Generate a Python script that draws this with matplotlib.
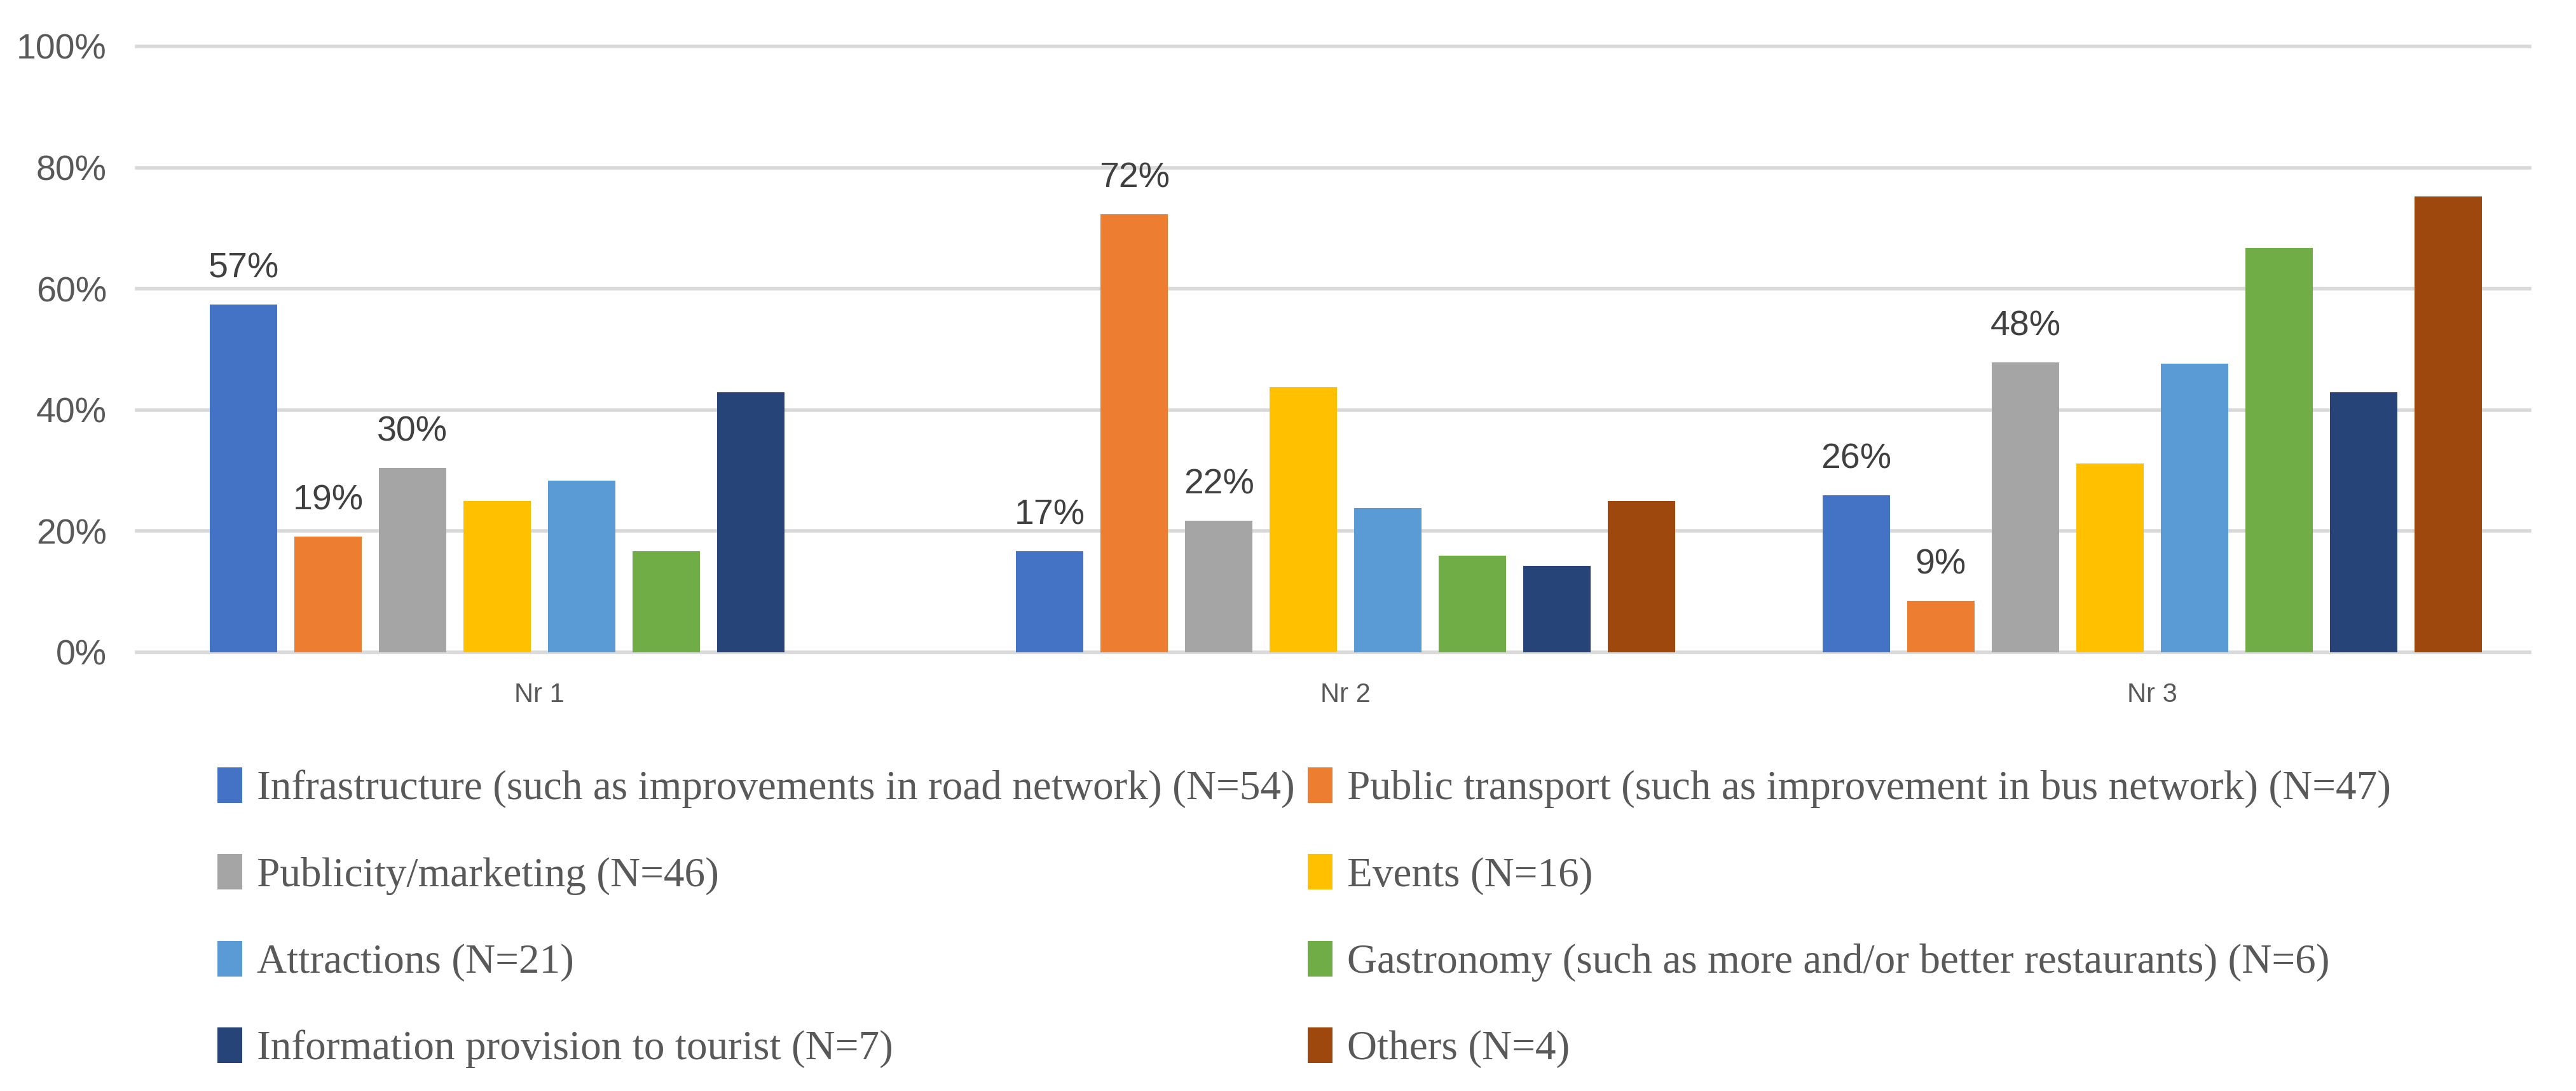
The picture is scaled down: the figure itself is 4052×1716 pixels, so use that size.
import numpy as np
import matplotlib
matplotlib.use("Agg")
import matplotlib.pyplot as plt

# ---*** DATA ***---
groups = ["Nr 1", "Nr 2", "Nr 3"]
series = ["Infrastructure (such as improvements in road network) (N=54)",
          "Public transport (such as improvement in bus network) (N=47)",
          "Publicity/marketing (N=46)",
          "Events (N=16)",
          "Attractions (N=21)",
          "Gastronomy (such as more and/or better restaurants) (N=6)",
          "Information provision to tourist (N=7)",
          "Others (N=4)"]
colors = ["#4472C4", "#ED7D31", "#A5A5A5", "#FFC000",
          "#5B9BD5", "#70AD47", "#264478", "#9E480E"]

infra = [57.4, 16.7, 25.9]
transport = [19.1, 72.3, 8.51]
publicity = [30.4, 21.7, 47.8]
events = [25.0, 43.8, 31.2]
attractions = [28.3, 23.8, 47.6]
gastro = [16.7, 16.0, 66.7]
info = [42.9, 14.3, 42.9]
others = [0.0, 25.0, 75.2]
values = [infra, transport, publicity, events, attractions, gastro, info, others]
labelled = [0, 1, 2]   # series that carry data labels

yticks = [0, 20, 40, 60, 80, 100]

# ---*** PLOT ***---
fig = plt.figure(figsize=(40.52, 17.16), dpi=100)
ax = fig.add_axes([0.0531, 0.4021, 0.982 - 0.0531, 0.9575 - 0.4021])

narrow = ["Liberation Sans", "DejaVu Sans"]
step = 0.1048
width = 0.0836
x = np.arange(len(groups))

handles = []
for i in range(len(series)):
    pos = x + (i - 3.5) * step
    bars = ax.bar(pos, values[i], width, color=colors[i], label=series[i], zorder=3)
    handles.append(bars)
    if i in labelled:
        for b, v in zip(bars, values[i]):
            ax.annotate("%d%%" % int(round(v)), (b.get_x() + b.get_width() / 2, v),
                        xytext=(0, 22), textcoords="offset points", ha="center", va="bottom",
                        fontsize=40, color="#404040", family=narrow)

ax.set_xlim(-0.499, 2.468)
ax.set_ylim(0, 100)
ax.set_yticks(yticks)
ax.set_yticklabels(["%d%%" % t for t in yticks], family=narrow, fontsize=40, color="#595959")
ax.set_xticks(x)
ax.set_xticklabels(groups, family=narrow, fontsize=30, color="#595959")
ax.tick_params(axis="both", length=0)
ax.tick_params(axis="y", pad=34)
ax.tick_params(axis="x", pad=34)
ax.yaxis.grid(True, color="#D9D9D9", linewidth=4, zorder=0)
for gl in ax.yaxis.get_gridlines():
    gl.set_clip_on(False)
for s in ax.spines.values():
    s.set_visible(False)

# legend fills column-wise, so reorder to read row by row
order = [0, 2, 4, 6, 1, 3, 5, 7]
leg = fig.legend([handles[k] for k in order], [series[k] for k in order],
                 loc="upper left", bbox_to_anchor=(0.078, 0.312), ncol=2, frameon=False,
                 prop={"family": "Liberation Serif", "size": 47},
                 handlelength=0.6, handleheight=0.95, handletextpad=0.35,
                 columnspacing=0.3, labelspacing=1.1, borderaxespad=0)
for t in leg.get_texts():
    t.set_color("#595959")

fig.savefig("out.png", dpi=100)
